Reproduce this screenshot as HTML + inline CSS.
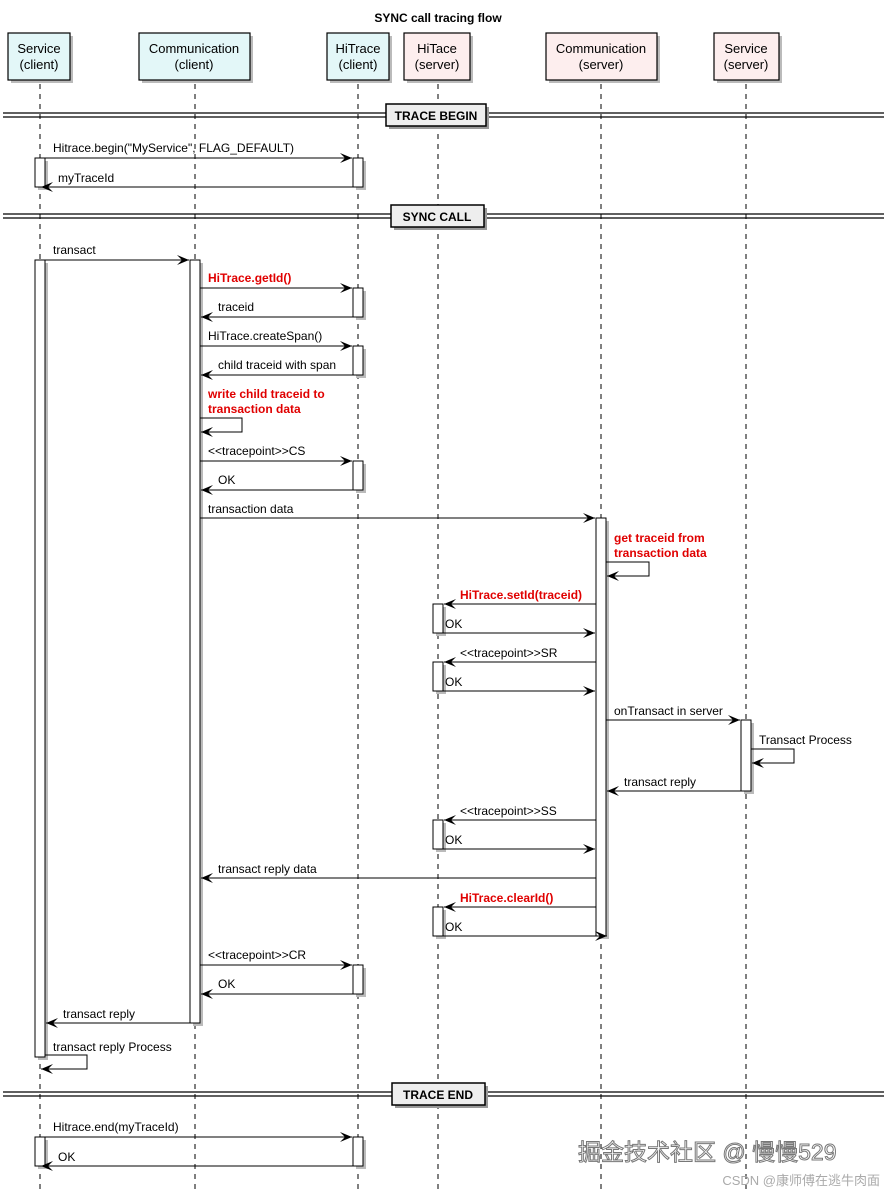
<!DOCTYPE html>
<html><head><meta charset="utf-8"><style>
html,body{margin:0;padding:0;background:#fff;}
svg{display:block;font-family:"Liberation Sans","Noto Sans CJK SC",sans-serif;}
</style></head><body>
<svg width="884" height="1194" viewBox="0 0 884 1194" xmlns="http://www.w3.org/2000/svg">
<defs>
<marker id="a" markerWidth="13" markerHeight="11" refX="12" refY="5" orient="auto" markerUnits="userSpaceOnUse">
<path d="M0,0 L12,5 L0,10 L5,5 z" fill="#000"/>
</marker>
</defs>
<text x="438" y="22" font-size="12" font-weight="bold" text-anchor="middle">SYNC call tracing flow</text>

<g stroke="#000" stroke-width="1" stroke-dasharray="5,5">
<line x1="40" y1="84" x2="40" y2="1190"/>
<line x1="195" y1="84" x2="195" y2="1190"/>
<line x1="358" y1="84" x2="358" y2="1190"/>
<line x1="438" y1="84" x2="438" y2="1190"/>
<line x1="601" y1="84" x2="601" y2="1190"/>
<line x1="746" y1="84" x2="746" y2="1190"/>
</g>

<g font-size="13" text-anchor="middle" fill="#000">
<rect x="11" y="36" width="62" height="47" fill="#bbb"/>
<rect x="8" y="33" width="62" height="47" fill="#e3f7f8" stroke="#000" stroke-width="1.2"/>
<text x="39" y="53">Service</text><text x="39" y="69">(client)</text>
<rect x="142" y="36" width="111" height="47" fill="#bbb"/>
<rect x="139" y="33" width="111" height="47" fill="#e3f7f8" stroke="#000" stroke-width="1.2"/>
<text x="194" y="53">Communication</text><text x="194" y="69">(client)</text>
<rect x="330" y="36" width="62" height="47" fill="#bbb"/>
<rect x="327" y="33" width="62" height="47" fill="#e3f7f8" stroke="#000" stroke-width="1.2"/>
<text x="358" y="53">HiTrace</text><text x="358" y="69">(client)</text>
<rect x="407" y="36" width="66" height="47" fill="#bbb"/>
<rect x="404" y="33" width="66" height="47" fill="#fdeeee" stroke="#000" stroke-width="1.2"/>
<text x="437" y="53">HiTace</text><text x="437" y="69">(server)</text>
<rect x="549" y="36" width="111" height="47" fill="#bbb"/>
<rect x="546" y="33" width="111" height="47" fill="#fdeeee" stroke="#000" stroke-width="1.2"/>
<text x="601" y="53">Communication</text><text x="601" y="69">(server)</text>
<rect x="717" y="36" width="65" height="47" fill="#bbb"/>
<rect x="714" y="33" width="65" height="47" fill="#fdeeee" stroke="#000" stroke-width="1.2"/>
<text x="746" y="53">Service</text><text x="746" y="69">(server)</text>
</g>

<g stroke="#000" stroke-width="1.2">
<line x1="3" y1="113" x2="884" y2="113"/><line x1="3" y1="117" x2="884" y2="117"/>
<line x1="3" y1="214" x2="884" y2="214"/><line x1="3" y1="218" x2="884" y2="218"/>
<line x1="3" y1="1092" x2="884" y2="1092"/><line x1="3" y1="1096" x2="884" y2="1096"/>
</g>
<g font-size="12" font-weight="bold" text-anchor="middle">
<rect x="389" y="107" width="100" height="22" fill="#999"/>
<rect x="386" y="104" width="100" height="22" fill="#eee" stroke="#000" stroke-width="1.5"/>
<text x="436" y="120">TRACE BEGIN</text>
<rect x="394" y="208" width="93" height="22" fill="#999"/>
<rect x="391" y="205" width="93" height="22" fill="#eee" stroke="#000" stroke-width="1.5"/>
<text x="437" y="221">SYNC CALL</text>
<rect x="395" y="1086" width="93" height="22" fill="#999"/>
<rect x="392" y="1083" width="93" height="22" fill="#eee" stroke="#000" stroke-width="1.5"/>
<text x="438" y="1099">TRACE END</text>
</g>

<g stroke="#000" stroke-width="1">
<rect x="38" y="161" width="10" height="29" fill="#bbb" stroke="none"/><rect x="35" y="158" width="10" height="29" fill="#fff"/>
<rect x="356" y="161" width="10" height="29" fill="#bbb" stroke="none"/><rect x="353" y="158" width="10" height="29" fill="#fff"/>
<rect x="38" y="263" width="10" height="797" fill="#bbb" stroke="none"/><rect x="35" y="260" width="10" height="797" fill="#fff"/>
<rect x="193" y="263" width="10" height="763" fill="#bbb" stroke="none"/><rect x="190" y="260" width="10" height="763" fill="#fff"/>
<rect x="356" y="291" width="10" height="29" fill="#bbb" stroke="none"/><rect x="353" y="288" width="10" height="29" fill="#fff"/>
<rect x="356" y="349" width="10" height="29" fill="#bbb" stroke="none"/><rect x="353" y="346" width="10" height="29" fill="#fff"/>
<rect x="356" y="464" width="10" height="29" fill="#bbb" stroke="none"/><rect x="353" y="461" width="10" height="29" fill="#fff"/>
<rect x="599" y="521" width="10" height="418" fill="#bbb" stroke="none"/><rect x="596" y="518" width="10" height="418" fill="#fff"/>
<rect x="436" y="607" width="10" height="29" fill="#bbb" stroke="none"/><rect x="433" y="604" width="10" height="29" fill="#fff"/>
<rect x="436" y="665" width="10" height="29" fill="#bbb" stroke="none"/><rect x="433" y="662" width="10" height="29" fill="#fff"/>
<rect x="744" y="723" width="10" height="71" fill="#bbb" stroke="none"/><rect x="741" y="720" width="10" height="71" fill="#fff"/>
<rect x="436" y="823" width="10" height="29" fill="#bbb" stroke="none"/><rect x="433" y="820" width="10" height="29" fill="#fff"/>
<rect x="436" y="910" width="10" height="29" fill="#bbb" stroke="none"/><rect x="433" y="907" width="10" height="29" fill="#fff"/>
<rect x="356" y="968" width="10" height="29" fill="#bbb" stroke="none"/><rect x="353" y="965" width="10" height="29" fill="#fff"/>
<rect x="38" y="1140" width="10" height="29" fill="#bbb" stroke="none"/><rect x="35" y="1137" width="10" height="29" fill="#fff"/>
<rect x="356" y="1140" width="10" height="29" fill="#bbb" stroke="none"/><rect x="353" y="1137" width="10" height="29" fill="#fff"/>
</g>

<g stroke="#000" stroke-width="1" fill="none" marker-end="url(#a)">
<line x1="45" y1="158" x2="352" y2="158"/>
<line x1="353" y1="187" x2="41" y2="187"/>
<line x1="40" y1="260" x2="189" y2="260"/>
<line x1="200" y1="288" x2="352" y2="288"/>
<line x1="353" y1="317" x2="201" y2="317"/>
<line x1="200" y1="346" x2="352" y2="346"/>
<line x1="353" y1="375" x2="201" y2="375"/>
<polyline points="200,418 242,418 242,432 201,432"/>
<line x1="200" y1="461" x2="352" y2="461"/>
<line x1="353" y1="490" x2="201" y2="490"/>
<line x1="200" y1="518" x2="595" y2="518"/>
<polyline points="606,562 649,562 649,576 607,576"/>
<line x1="596" y1="604" x2="444" y2="604"/>
<line x1="443" y1="633" x2="595" y2="633"/>
<line x1="596" y1="662" x2="444" y2="662"/>
<line x1="443" y1="691" x2="595" y2="691"/>
<line x1="606" y1="720" x2="740" y2="720"/>
<polyline points="751,749 794,749 794,763 752,763"/>
<line x1="741" y1="791" x2="607" y2="791"/>
<line x1="596" y1="820" x2="444" y2="820"/>
<line x1="443" y1="849" x2="595" y2="849"/>
<line x1="596" y1="878" x2="201" y2="878"/>
<line x1="596" y1="907" x2="444" y2="907"/>
<line x1="443" y1="936" x2="607" y2="936"/>
<line x1="200" y1="965" x2="352" y2="965"/>
<line x1="353" y1="994" x2="201" y2="994"/>
<line x1="190" y1="1023" x2="46" y2="1023"/>
<polyline points="45,1055 87,1055 87,1069 41,1069"/>
<line x1="45" y1="1137" x2="352" y2="1137"/>
<line x1="353" y1="1166" x2="41" y2="1166"/>
</g>

<g font-size="12" fill="#000">
<text x="53" y="152">Hitrace.begin("MyService", FLAG_DEFAULT)</text>
<text x="58" y="182">myTraceId</text>
<text x="53" y="254">transact</text>
<text x="218" y="311">traceid</text>
<text x="208" y="340">HiTrace.createSpan()</text>
<text x="218" y="369">child traceid with span</text>
<text x="208" y="455">&lt;&lt;tracepoint&gt;&gt;CS</text>
<text x="218" y="484">OK</text>
<text x="208" y="513">transaction data</text>
<text x="445" y="628">OK</text>
<text x="460" y="657">&lt;&lt;tracepoint&gt;&gt;SR</text>
<text x="445" y="686">OK</text>
<text x="614" y="715">onTransact in server</text>
<text x="759" y="744">Transact Process</text>
<text x="624" y="786">transact reply</text>
<text x="460" y="815">&lt;&lt;tracepoint&gt;&gt;SS</text>
<text x="445" y="844">OK</text>
<text x="218" y="873">transact reply data</text>
<text x="445" y="931">OK</text>
<text x="208" y="959">&lt;&lt;tracepoint&gt;&gt;CR</text>
<text x="218" y="988">OK</text>
<text x="63" y="1018">transact reply</text>
<text x="53" y="1051">transact reply Process</text>
<text x="53" y="1131">Hitrace.end(myTraceId)</text>
<text x="58" y="1161">OK</text>
</g>
<g font-size="12" font-weight="bold" fill="#e00000">
<text x="208" y="282">HiTrace.getId()</text>
<text x="208" y="398">write child traceid to</text>
<text x="208" y="413"> transaction data</text>
<text x="614" y="542">get traceid from</text>
<text x="614" y="557"> transaction data</text>
<text x="460" y="599">HiTrace.setId(traceid)</text>
<text x="460" y="902">HiTrace.clearId()</text>
</g>

<text x="578" y="1160" font-size="23" fill="#fff" stroke="#777" stroke-width="1">掘金技术社区 @ 慢慢529</text>
<text x="880" y="1185" font-size="13" fill="#aaa" text-anchor="end">CSDN @康师傅在逃牛肉面</text>
</svg>
</body></html>
